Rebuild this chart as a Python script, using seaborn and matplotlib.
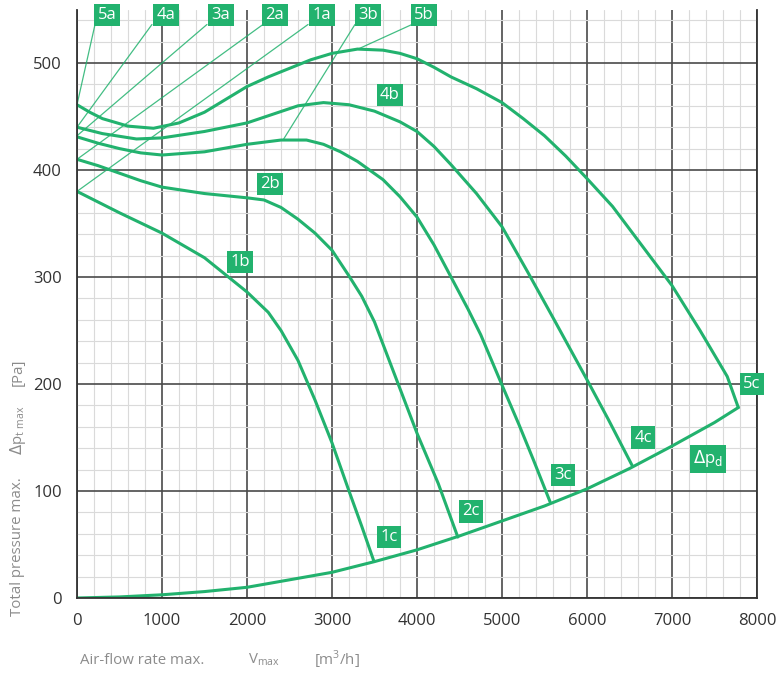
import numpy as np
import pandas as pd
import matplotlib
matplotlib.use("Agg")
import matplotlib.pyplot as plt
from matplotlib.ticker import MultipleLocator
import seaborn as sns

# ---- data ----
c1_x = [0, 500, 1000, 1500, 1750, 2000, 2250, 2400, 2600, 2800, 3000, 3200, 3350, 3490]
c1_y = [380, 360, 341, 318, 302, 286, 267, 250, 222, 185, 145, 100, 67, 35]

c2_x = [0, 250, 500, 750, 1000, 1500, 2000, 2200, 2400, 2600, 2800, 3000, 3200, 3350,
        3500, 3750, 4000, 4250, 4480]
c2_y = [410, 404, 397, 390, 384, 378, 374, 372, 365, 354, 341, 325, 301, 282,
        258, 206, 154, 107, 57]

c3_x = [0, 250, 500, 750, 1000, 1500, 2000, 2400, 2700, 2900, 3100, 3300, 3600, 3800,
        4000, 4200, 4400, 4600, 4750, 5000, 5200, 5370, 5565]
c3_y = [431, 425, 420, 416, 414, 417, 424, 428, 428, 424, 417, 408, 391, 375,
        356, 330, 300, 270, 246, 199, 162, 129, 90]

c4_x = [0, 300, 700, 1000, 1500, 2000, 2300, 2600, 2900, 3200, 3500, 3800, 4000, 4200,
        4400, 4700, 5000, 5300, 5600, 6000, 6250, 6530]
c4_y = [440, 434, 429, 430, 436, 444, 452, 460, 463, 461, 455, 445, 436, 422,
        405, 378, 347, 305, 262, 204, 167, 124]

c5_x = [0, 150, 300, 600, 900, 1200, 1500, 1750, 2000, 2250, 2500, 2750, 3000, 3300,
        3600, 3800, 4000, 4200, 4400, 4700, 5000, 5250, 5500, 5750, 6000, 6300, 6650,
        7000, 7330, 7650, 7780]
c5_y = [461, 454, 448, 441, 439, 444, 454, 466, 478, 487, 495, 503, 509, 513,
        512, 509, 504, 496, 487, 476, 463, 448, 432, 413, 392, 366, 329,
        292, 250, 207, 178]

pd_x = [0, 500, 1000, 1500, 2000, 2500, 3000, 3500, 4000, 4500, 5000, 5500, 6000, 6500,
        7000, 7500, 7780]
pd_y = [0, 1, 3, 6, 10, 17, 24, 34, 45, 58, 72, 86, 102, 121, 142, 164, 178]

curve_names = ["1", "2", "3", "4", "5", "pd"]

# label texts, positions (data units)
label_texts = ["5a", "4a", "3a", "2a", "1a", "3b", "5b", "4b", "2b", "1b",
               "1c", "2c", "3c", "4c", "5c", r"$\Delta$p$_{\rm d}$"]
label_x = [353, 1047, 1694, 2329, 2882, 3424, 4082, 3682, 2271, 1918,
           3671, 4635, 5718, 6659, 7941, 7424]
label_y = [545, 545, 545, 545, 545, 545, 545, 470, 387, 314,
           57, 81, 115, 150, 200, 130]

# leader lines: from label to curve point
lead_x0 = [212, 882, 1529, 2188, 2718, 3270, 3941]
lead_y0 = [536, 536, 536, 536, 536, 536, 536]
lead_x1 = [0, 0, 0, 0, 0, 2424, 3306]
lead_y1 = [461, 440, 432, 410, 380, 428, 513]

x_ticks = [0, 1000, 2000, 3000, 4000, 5000, 6000, 7000, 8000]
y_ticks = [0, 100, 200, 300, 400, 500]

# ---- build table ----
frames = []
for name, xs, ys in zip(curve_names, [c1_x, c2_x, c3_x, c4_x, c5_x, pd_x],
                        [c1_y, c2_y, c3_y, c4_y, c5_y, pd_y]):
    frames.append(pd.DataFrame({"curve": name, "flow": xs, "pressure": ys}))
df = pd.concat(frames, ignore_index=True)

sns.set_style("white")
plt.rcParams["font.family"] = ["Open Sans", "DejaVu Sans"]
plt.rcParams["mathtext.fontset"] = "dejavusans"

GREEN = "#22b26e"

fig = plt.figure(figsize=(7.76, 6.75), dpi=100)
ax = fig.add_axes([77 / 776, 1 - 598 / 675, 680 / 776, 588.5 / 675])

# grid
ax.set_xlim(0, 8000)
ax.set_ylim(0, 550)
ax.xaxis.set_major_locator(MultipleLocator(1000))
ax.xaxis.set_minor_locator(MultipleLocator(200))
ax.yaxis.set_major_locator(MultipleLocator(100))
ax.yaxis.set_minor_locator(MultipleLocator(20))
ax.grid(which="minor", color="#dadada", linewidth=0.8)
ax.grid(which="major", color="#4a4a4a", linewidth=1.2)
ax.set_axisbelow(True)

for name in curve_names:
    sub = df[df["curve"] == name]
    sns.lineplot(data=sub, x="flow", y="pressure", sort=False, estimator=None,
                 color=GREEN, linewidth=2.2, ax=ax, legend=False)

for x0, y0, x1, y1 in zip(lead_x0, lead_y0, lead_x1, lead_y1):
    ax.plot([x0, x1], [y0, y1], color=GREEN, linewidth=0.9, alpha=0.85, zorder=2,
            clip_on=False)

for t, x, y in zip(label_texts, label_x, label_y):
    ax.text(x, y, t, color="white", fontsize=12, ha="center", va="center",
            zorder=5, clip_on=False,
            bbox=dict(boxstyle="square,pad=0.2", facecolor=GREEN, edgecolor="none"))

ax.set_xticks(x_ticks)
ax.set_yticks(y_ticks)
ax.set_xticklabels([str(v) for v in x_ticks])
ax.set_yticklabels([str(v) for v in y_ticks])
ax.tick_params(axis="both", which="both", direction="out", colors="#333333",
               labelsize=12, labelcolor="#333333")
ax.tick_params(axis="both", which="major", length=5, width=1.0, pad=6)
ax.tick_params(axis="both", which="minor", length=4, width=1.0)
ax.set_xlabel("")
ax.set_ylabel("")

ax.spines["top"].set_visible(False)
for s in ["left", "bottom", "right"]:
    ax.spines[s].set_color("#333333")
    ax.spines[s].set_linewidth(1.3)

# axis titles
GRAY = "#8c8c8c"
fig.text(80 / 776, 1 - 660 / 675, "Air-flow rate max.", color=GRAY, fontsize=10.8,
         ha="left", va="center")
fig.text(248 / 776, 1 - 660 / 675, r"V$_{\mathregular{max}}$", color=GRAY, fontsize=10.8,
         ha="left", va="center")
fig.text(314 / 776, 1 - 660 / 675, r"[m$^{\mathregular{3}}$/h]", color=GRAY, fontsize=10.8,
         ha="left", va="center")

fig.text(18 / 776, 1 - 547 / 675, "Total pressure max.", color=GRAY, fontsize=10.8,
         rotation=90, ha="center", va="center")
fig.text(18 / 776, 1 - 430 / 675, r"$\Delta$p$_{\mathregular{t\ max}}$", color=GRAY,
         fontsize=10.8, rotation=90, ha="center", va="center")
fig.text(18 / 776, 1 - 372 / 675, "[Pa]", color=GRAY, fontsize=10.8,
         rotation=90, ha="center", va="center")

fig.savefig("out.png", dpi=100)
